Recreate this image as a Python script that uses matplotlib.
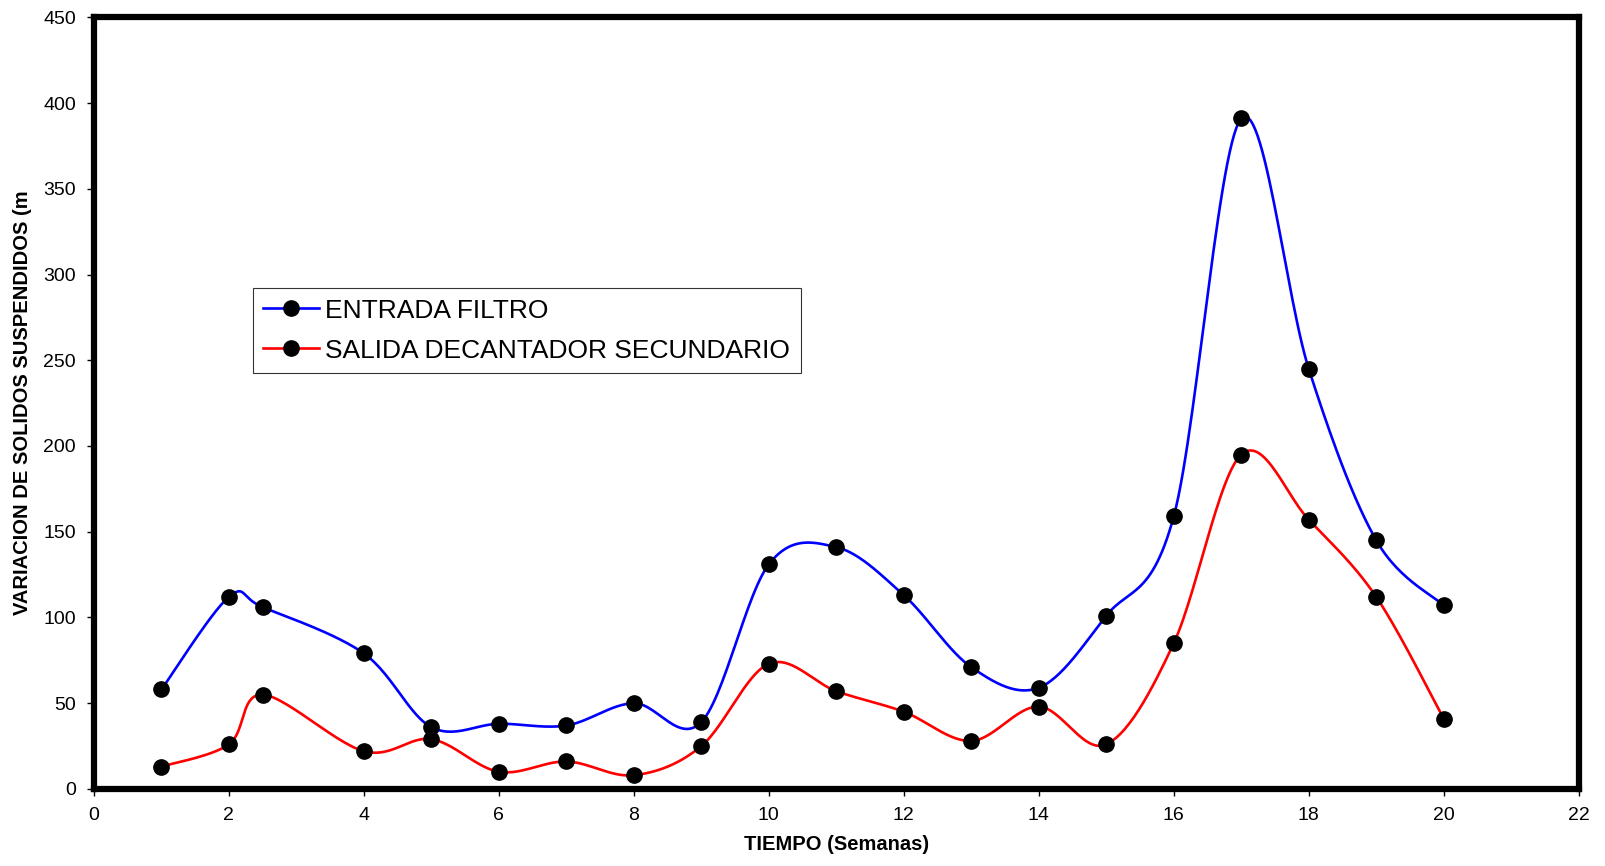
import matplotlib
matplotlib.use("Agg")
import matplotlib.pyplot as plt
import numpy as np

# Semanas y valores
semanas = [1, 2, 2.5, 4, 5, 6, 7, 8, 9, 10, 11, 12, 13, 14, 15, 16, 17, 18, 19, 20]
entrada_filtro = [58, 112, 106, 79, 36, 38, 37, 50, 39, 131, 141, 113, 71, 59, 101, 159, 391, 245, 145, 107]
salida_decantador = [13, 26, 55, 22, 29, 10, 16, 8, 25, 73, 57, 45, 28, 48, 26, 85, 195, 157, 112, 41]

labels = ['ENTRADA FILTRO', 'SALIDA DECANTADOR SECUNDARIO']
colors = ['#0000ff', '#ff0000']


def smooth(x, y, n=30):
    # suavizado tipo Excel (Bezier / Catmull-Rom)
    x = np.asarray(x, float)
    y = np.asarray(y, float)
    xs, ys = [x[0]], [y[0]]
    t = np.linspace(0, 1, n)[1:]
    for i in range(len(x) - 1):
        p0 = (x[max(i - 1, 0)], y[max(i - 1, 0)])
        p1 = (x[i], y[i])
        p2 = (x[i + 1], y[i + 1])
        p3 = (x[min(i + 2, len(x) - 1)], y[min(i + 2, len(x) - 1)])
        c1 = (p1[0] + (p2[0] - p0[0]) / 6, p1[1] + (p2[1] - p0[1]) / 6)
        c2 = (p2[0] - (p3[0] - p1[0]) / 6, p2[1] - (p3[1] - p1[1]) / 6)
        for k in range(2):
            pts = ((1 - t) ** 3 * p1[k] + 3 * (1 - t) ** 2 * t * c1[k]
                   + 3 * (1 - t) * t ** 2 * c2[k] + t ** 3 * p2[k])
            (xs if k == 0 else ys).extend(pts)
    return xs, ys


plt.rcParams['font.family'] = ['Liberation Sans', 'DejaVu Sans']

fig = plt.figure(figsize=(16.06, 8.66), dpi=100)
ax = fig.add_axes([0.0585, 0.089, 0.9245, 0.891])

for serie, lab, col in zip([entrada_filtro, salida_decantador], labels, colors):
    xs, ys = smooth(semanas, serie)
    ax.plot(xs, ys, color=col, lw=1.9, zorder=2)
    ax.plot(semanas, serie, 'o', color='black', ms=11, zorder=3)
    ax.plot([], [], color=col, lw=1.9, marker='o', mfc='black', mec='black', ms=11, label=lab)

ax.set_xlim(0, 22)
ax.set_ylim(0, 450)
ax.set_xticks(range(0, 23, 2))
ax.set_yticks(range(0, 451, 50))
ax.tick_params(labelsize=14, length=5, width=1, pad=8)
for s in ax.spines.values():
    s.set_linewidth(4.5)

ax.set_xlabel('TIEMPO (Semanas)', fontsize=14.5, fontweight='bold', labelpad=8)
ax.set_ylabel('VARIACION DE SOLIDOS SUSPENDIDOS (m', fontsize=14.5, fontweight='bold',
              labelpad=8)

leg = ax.legend(loc='upper left', bbox_to_anchor=(0.107, 0.649), fontsize=19,
                frameon=True, fancybox=False, edgecolor='black', handlelength=2.1,
                handletextpad=0.25, borderpad=0.4, labelspacing=0.6, borderaxespad=0)
leg.get_frame().set_linewidth(0.8)

fig.savefig('out.png', dpi=100)
